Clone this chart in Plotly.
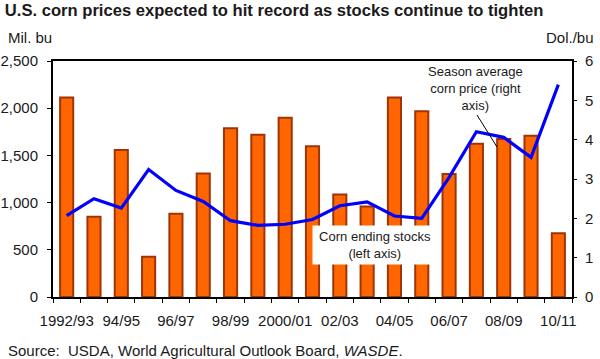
import plotly.graph_objects as go

years = ["1992/93", "1993/94", "1994/95", "1995/96", "1996/97", "1997/98", "1998/99",
         "1999/00", "2000/01", "2001/02", "2002/03", "2003/04", "2004/05", "2005/06",
         "2006/07", "2007/08", "2008/09", "2009/10", "2010/11"]
stocks = [2113, 850, 1558, 426, 883, 1308, 1787, 1718, 1899, 1596, 1087, 958,
          2114, 1967, 1304, 1624, 1673, 1708, 675]
price = [2.07, 2.50, 2.26, 3.24, 2.71, 2.43, 1.94, 1.82, 1.85, 1.97, 2.32, 2.42,
         2.06, 2.00, 3.04, 4.20, 4.06, 3.55, 5.40]
tick_labels = ["1992/93", "", "94/95", "", "96/97", "", "98/99", "", "2000/01", "",
               "02/03", "", "04/05", "", "06/07", "", "08/09", "", "10/11"]

idx = list(range(len(years)))
shown = [i for i in idx if tick_labels[i]]
FONT = "Liberation Sans, Arial, sans-serif"

fig = go.Figure()
fig.add_trace(go.Bar(x=idx, y=stocks, width=0.48, name="Corn ending stocks",
                     marker=dict(color="#FF6600", line=dict(color="#9E3508", width=2)),
                     hovertext=years))
fig.add_trace(go.Scatter(x=idx, y=price, yaxis="y2", mode="lines", name="Price",
                         line=dict(color="#0000FF", width=3.2), hovertext=years))

fig.update_layout(
    width=600, height=359,
    margin=dict(l=53, r=28, t=61, b=62, autoexpand=False),
    paper_bgcolor="white", plot_bgcolor="white",
    showlegend=False,
    font=dict(family=FONT, size=15, color="#1a1a1a"),
    title=dict(text="<b>U.S. corn prices expected to hit record as stocks continue to tighten</b>",
               x=0.008, xanchor="left", y=0.972, yanchor="middle",
               font=dict(family=FONT, size=16.6, color="#1a1a1a")),
    xaxis=dict(range=[-0.5, len(years) - 0.5], tickvals=[i for i in shown],
               ticktext=[tick_labels[i] for i in shown], ticks="", automargin=False,
               showline=True, linecolor="black", linewidth=2, mirror=True,
               showgrid=False, zeroline=False, ticklabelstandoff=9,
               minor=dict(tickmode="linear", tick0=-0.5, dtick=1, ticks="outside",
                          ticklen=4, tickcolor="black", tickwidth=1, showgrid=False)),
    yaxis=dict(range=[0, 2500], dtick=500, tickformat=",", ticks="outside", ticklen=4,
               tickcolor="black", showline=True, linecolor="black", linewidth=2,
               mirror=True, showgrid=False, zeroline=False, ticklabelstandoff=6,
               automargin=False),
    yaxis2=dict(range=[0, 6], dtick=1, overlaying="y", side="right", ticks="outside",
                ticklen=4, tickcolor="black", showline=False, showgrid=False,
                zeroline=False, ticklabelstandoff=5, automargin=False),
)

fig.add_annotation(text="Mil. bu", xref="paper", yref="paper", x=(6 - 53) / 519,
                   y=(297 - 37.5) / 236, xanchor="left", yanchor="middle",
                   showarrow=False, font=dict(size=15))
fig.add_annotation(text="Dol./bu", xref="paper", yref="paper", x=(596 - 53) / 519,
                   y=(297 - 37.5) / 236, xanchor="right", yanchor="middle",
                   showarrow=False, font=dict(size=15))
fig.add_annotation(text="Source:\u00a0\u00a0USDA, World Agricultural Outlook Board, <i>WASDE</i>.",
                   xref="paper", yref="paper", x=(6 - 53) / 519, y=(297 - 350) / 236,
                   xanchor="left", yanchor="middle", showarrow=False, font=dict(size=15))
fig.add_annotation(text="Season average<br>corn price (right<br>axis)", xref="paper",
                   yref="paper", x=(475 - 53) / 519, y=(297 - 88.5) / 236,
                   xanchor="center", yanchor="middle", showarrow=False,
                   font=dict(size=13))
fig.add_annotation(text="Corn ending stocks<br>(left axis)", xref="paper", yref="paper",
                   x=(375 - 53) / 519, y=(297 - 245) / 236, xanchor="center",
                   yanchor="middle", showarrow=False, font=dict(size=13),
                   bgcolor="white", width=118, borderpad=3)
fig.add_shape(type="line", xref="paper", yref="paper",
              x0=(477 - 53) / 519, y0=(297 - 115) / 236,
              x1=(497 - 53) / 519, y1=(297 - 147) / 236,
              line=dict(color="black", width=1))

fig.write_html("out.html", config={"displayModeBar": False},
               post_script="document.body.style.margin='0px';")
